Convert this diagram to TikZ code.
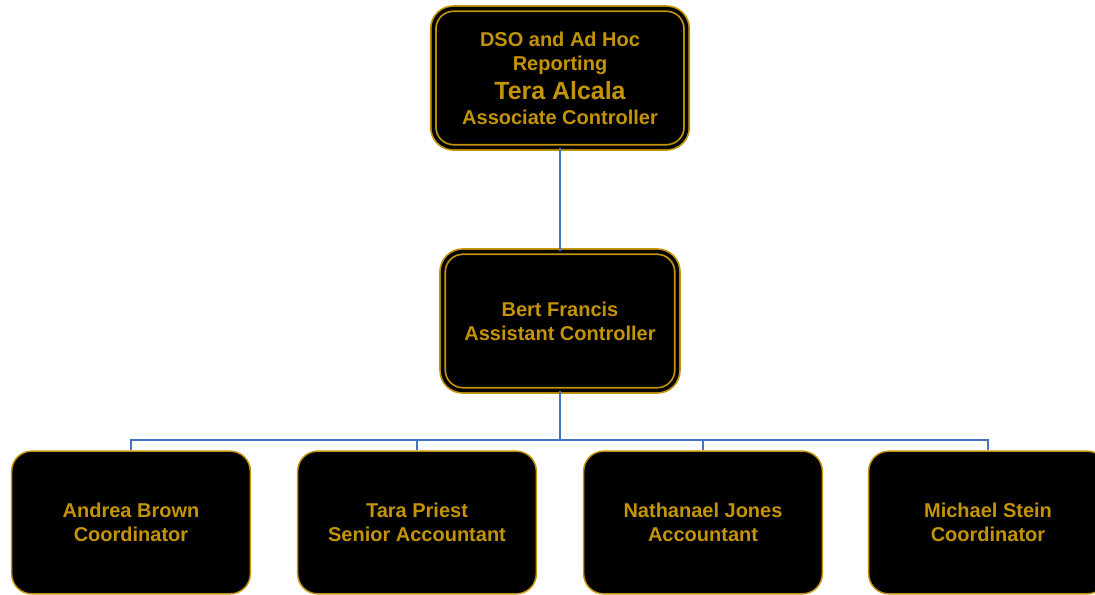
\documentclass[tikz,border=0pt]{standalone}
\usepackage{fontspec}
\setmainfont{Liberation Sans}
\usetikzlibrary{positioning,calc}
\definecolor{chartgold}{RGB}{196,148,8}
\definecolor{linkblue}{RGB}{68,114,196}

\begin{document}
\begin{tikzpicture}[x=0.75pt,y=-0.75pt,
  box/.style={fill=black,rounded corners=15pt,align=center,text=chartgold,
    font=\bfseries\fontsize{15}{18}\selectfont,inner sep=0pt},
  boss/.style={box,draw=chartgold,double=black,double distance=2.6pt,line width=1.3pt},
  staff/.style={box,draw=chartgold,line width=1.1pt,
    minimum width=179pt,minimum height=107pt},
  link/.style={draw=linkblue,line width=1pt}]
\clip (0,0) rectangle (1095,595);
% ---- top two levels ----
\node[boss,minimum width=190pt,minimum height=104pt] (assoc) at (560,78)
  {DSO and Ad Hoc\\Reporting\\[4pt]
   {\fontsize{18.7}{22}\selectfont Tera Alcala}\\[0.5pt]
   Associate Controller};
\node[boss,minimum width=176pt,minimum height=104pt] (assist) at (560,321)
  {Bert Francis\\Assistant Controller};
% ---- staff row ----
\node[staff] (brown)  at (131,522.5) {Andrea Brown\\Coordinator};
\node[staff] (priest) at (417,522.5) {Tara Priest\\Senior Accountant};
\node[staff] (jones)  at (703,522.5) {Nathanael Jones\\Accountant};
\node[staff] (stein)  at (988,522.5) {Michael Stein\\Coordinator};
% connectors
\coordinate (bus) at (560,440);
\draw[link] (assoc.south) -- (assist.north);
\draw[link] (assist.south) -- (bus);
\foreach \who in {brown,priest,jones,stein}
  \draw[link] (bus) -| (\who.north);
\end{tikzpicture}
\end{document}
